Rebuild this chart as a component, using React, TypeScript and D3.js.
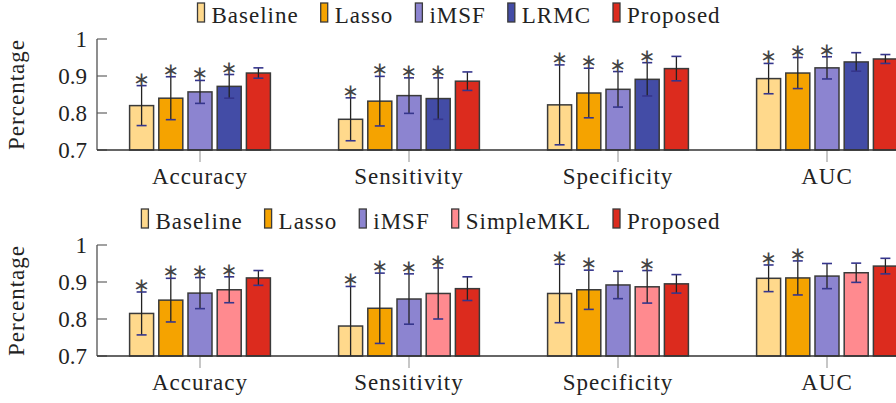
import React, { useLayoutEffect, useRef, useState } from "react";
import * as d3 from "d3";

const categories = ["Accuracy", "Sensitivity", "Specificity", "AUC"];
const yTicks = [0.7, 0.8, 0.9, 1];

const topSeries = ["Baseline", "Lasso", "iMSF", "LRMC", "Proposed"];
const topValues = [
  [0.82, 0.783, 0.822, 0.893],
  [0.84, 0.832, 0.854, 0.908],
  [0.857, 0.847, 0.864, 0.922],
  [0.872, 0.839, 0.891, 0.938],
  [0.908, 0.886, 0.92, 0.946],
];
const topErrors = [
  [0.054, 0.058, 0.108, 0.041],
  [0.058, 0.067, 0.067, 0.042],
  [0.031, 0.048, 0.048, 0.03],
  [0.032, 0.056, 0.045, 0.025],
  [0.014, 0.025, 0.033, 0.012],
];
const topSig = [
  [1, 1, 1, 1],
  [1, 1, 1, 1],
  [1, 1, 1, 1],
  [1, 1, 1, 0],
  [0, 0, 0, 0],
];

const bottomSeries = ["Baseline", "Lasso", "iMSF", "SimpleMKL", "Proposed"];
const bottomValues = [
  [0.815, 0.781, 0.869, 0.91],
  [0.851, 0.829, 0.879, 0.911],
  [0.87, 0.854, 0.892, 0.916],
  [0.879, 0.869, 0.887, 0.925],
  [0.911, 0.882, 0.895, 0.943],
];
const bottomErrors = [
  [0.058, 0.107, 0.079, 0.036],
  [0.059, 0.095, 0.053, 0.046],
  [0.042, 0.068, 0.037, 0.034],
  [0.035, 0.069, 0.044, 0.026],
  [0.02, 0.032, 0.025, 0.021],
];
const bottomSig = [
  [1, 1, 1, 1],
  [1, 1, 1, 1],
  [1, 1, 0, 0],
  [1, 1, 1, 0],
  [0, 0, 0, 0],
];

const colors: Record<string, string> = {
  Baseline: "#FFD98C",
  Lasso: "#F5A300",
  iMSF: "#8C84D0",
  LRMC: "#434CA6",
  SimpleMKL: "#FF8A8F",
  Proposed: "#DC2B1E",
};

const SERIF = "Tinos, 'Liberation Serif', 'Times New Roman', 'Noto Serif', 'DejaVu Serif', serif";

function Label(props: any) {
  const { children, spacing, ...rest } = props;
  return (
    <text {...rest} style={{ fontFamily: SERIF, fontSize: 23, letterSpacing: spacing ? 1 : 0 }} fill="#222">
      {children}
    </text>
  );
}

interface PanelProps {
  top: number;
  series: string[];
  values: number[][];
  errors: number[][];
  sig: number[][];
}

function Panel({ top, series, values, errors, sig }: PanelProps) {
  const legendBase = top + 23;
  const plotTop = top + 39;
  const plotBottom = top + 150;
  const axisX = 97;
  const y = d3.scaleLinear().domain([0.7, 1]).range([plotBottom, plotTop]);
  const x = d3.scalePoint<string>().domain(categories).range([200, 827]);
  const inner = d3
    .scaleBand<string>()
    .domain(series)
    .range([-73, 73])
    .paddingInner(0.178)
    .paddingOuter(0.089);

  const gRef = useRef<SVGGElement | null>(null);
  const [widths, setWidths] = useState<number[]>(series.map((s) => s.length * 11));
  useLayoutEffect(() => {
    if (!gRef.current) return;
    const els = Array.from(gRef.current.querySelectorAll("text.legend-text")) as SVGTextElement[];
    const w = els.map((el) => el.getComputedTextLength());
    if (w.length === widths.length && w.some((v, i) => Math.abs(v - widths[i]) > 0.5)) setWidths(w);
  });

  const legend: { name: string; sx: number; tx: number }[] = [];
  {
    let right = 627 + widths[series.length - 1];
    for (let i = series.length - 1; i >= 0; i--) {
      const tx = right - widths[i];
      const sx = tx - 14;
      legend.unshift({ name: series[i], sx, tx });
      right = sx - 22;
    }
  }

  const capColor = "#35358c";
  return (
    <g ref={gRef}>
      {legend.map((it) => (
        <g key={it.name}>
          <rect
            x={it.sx}
            y={legendBase - 20}
            width={7}
            height={19}
            fill={colors[it.name]}
            stroke="#3a3a3a"
            strokeWidth={1.3}
          />
          <Label className="legend-text" x={it.tx} y={legendBase} spacing>
            {it.name}
          </Label>
        </g>
      ))}
      <line x1={axisX} x2={axisX} y1={y(1)} y2={plotBottom} stroke="#444" strokeWidth={1.2} />
      {yTicks.map((t) => (
        <g key={t}>
          <line x1={axisX} x2={axisX + 10} y1={y(t)} y2={y(t)} stroke="#555" strokeWidth={1.1} />
          <Label x={87} y={y(t)} dy="0.34em" textAnchor="end">
            {t === 1 ? "1" : d3.format(".1f")(t)}
          </Label>
        </g>
      ))}
      <Label
        transform={`translate(${24},${(plotTop + plotBottom) / 2}) rotate(-90)`}
        textAnchor="middle"
        spacing
      >
        Percentage
      </Label>
      {categories.map((c) => (
        <g key={c}>
          <line x1={x(c)} x2={x(c)} y1={plotBottom} y2={plotBottom + 12} stroke="#999" strokeWidth={1.1} />
          <Label x={x(c)} y={plotBottom + 34} textAnchor="middle" spacing>
            {c}
          </Label>
        </g>
      ))}
      {series.map((s, si) =>
        categories.map((c, ci) => {
          const v = values[si][ci];
          const e = errors[si][ci];
          const bx = (x(c) as number) + (inner(s) as number);
          const bw = inner.bandwidth();
          const cx = bx + bw / 2;
          const hi = y(v + e);
          const loVal = v - e;
          const lo = y(Math.max(0.7, loVal));
          return (
            <g key={s + c}>
              <rect
                x={bx}
                y={y(v)}
                width={bw}
                height={plotBottom - y(v)}
                fill={colors[s]}
                stroke="#3a3a3a"
                strokeWidth={1.5}
              />
              <line x1={cx} x2={cx} y1={hi} y2={lo} stroke="#222" strokeWidth={1.3} />
              <line x1={cx - 5} x2={cx + 5} y1={hi} y2={hi} stroke={capColor} strokeWidth={1.6} />
              {loVal >= 0.7 && (
                <line x1={cx - 5} x2={cx + 5} y1={lo} y2={lo} stroke={capColor} strokeWidth={1.6} />
              )}
              {sig[si][ci] === 1 && (
                <text
                  x={cx}
                  y={hi - 9}
                  dy="0.45em"
                  textAnchor="middle"
                  style={{ fontFamily: "DejaVu Sans", fontSize: 20 }}
                  fill="#444"
                >
                  ∗
                </text>
              )}
            </g>
          );
        })
      )}
      <line x1={axisX} x2={896} y1={plotBottom} y2={plotBottom} stroke="#333" strokeWidth={1.3} />
    </g>
  );
}

export default function App() {
  return (
    <svg width={896} height={403} style={{ position: "absolute", left: 0, top: 0, fontFamily: SERIF }}>
      <rect width={896} height={403} fill="#fff" />
      <Panel top={0} series={topSeries} values={topValues} errors={topErrors} sig={topSig} />
      <Panel top={206} series={bottomSeries} values={bottomValues} errors={bottomErrors} sig={bottomSig} />
    </svg>
  );
}
